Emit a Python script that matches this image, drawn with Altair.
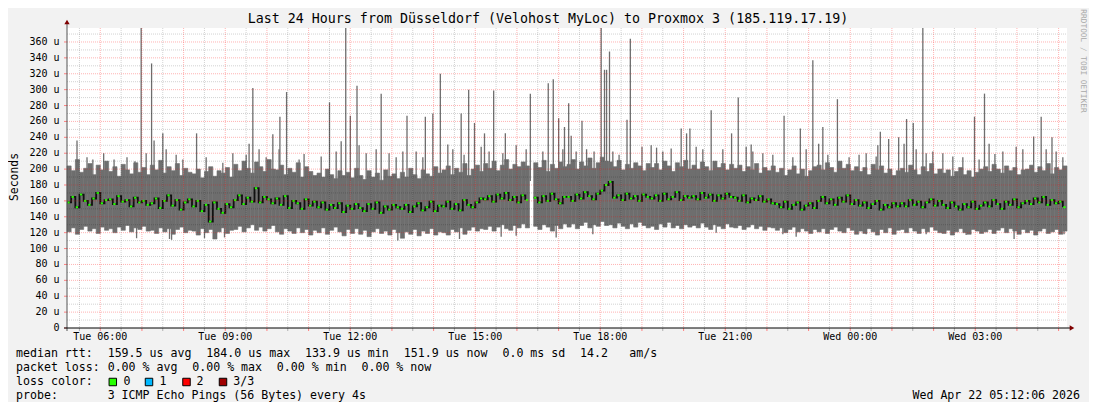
import altair as alt
import pandas as pd

FONT = "DejaVu Sans Mono"
W, H = 1000, 300
YMAX = 377.6

# ---- smoke columns (24 h, 10 columns per hour), values in microseconds ----
hi = [
    204, 198, 212, 196, 201, 207, 193, 205, 199, 210,
    197, 203, 191, 206, 199, 194, 208, 196, 202, 193,
    205, 199, 211, 195, 203, 198, 207, 192, 201, 196,
    194, 200, 189, 197, 203, 191, 198, 195, 202, 190,
    206, 198, 210, 201, 195, 209, 203, 197, 212, 200,
    199, 205, 193, 201, 196, 208, 190, 203, 197, 192,
    195, 190, 200, 193, 188, 198, 192, 196, 189, 201,
    192, 187, 198, 190, 195, 186, 199, 191, 194, 188,
    196, 190, 201, 193, 188, 199, 194, 191, 203, 195,
    199, 204, 193, 201, 196, 207, 192, 200, 205, 197,
    207, 201, 210, 198, 205, 212, 200, 206, 203, 209,
    204, None, 208, 202, 211, 197, 206, 201, 209, 203,
    206, 212, 200, 209, 204, 214, 201, 208, 215, 210,
    209, 203, 211, 199, 206, 201, 208, 204, 198, 207,
    202, 207, 199, 210, 204, 197, 208, 203, 211, 200,
    205, 200, 209, 203, 198, 210, 202, 207, 199, 206,
    201, 205, 197, 203, 199, 207, 195, 202, 198, 204,
    196, 201, 192, 199, 204, 194, 200, 191, 198, 203,
    205, 199, 208, 202, 196, 210, 201, 206, 198, 203,
    197, 202, 193, 206, 199, 204, 195, 200, 192, 198,
    201, 196, 205, 199, 193, 203, 197, 207, 194, 200,
    195, 199, 191, 197, 202, 193, 198, 190, 196, 200,
    203, 197, 206, 200, 195, 204, 198, 202, 193, 199,
    200, 205, 196, 203, 198, 207, 194, 202, 199, 204,
]
lo = [
    121, 126, 118, 124, 128, 122, 125, 119, 127, 123,
    125, 120, 127, 123, 129, 121, 126, 124, 128, 122,
    123, 119, 126, 121, 125, 118, 124, 127, 120, 123,
    122, 117, 125, 120, 124, 112, 121, 126, 119, 123,
    124, 128, 121, 126, 130, 123, 127, 122, 125, 129,
    121, 118, 125, 122, 119, 126, 120, 124, 117, 123,
    120, 126, 118, 123, 127, 121, 116, 124, 119, 125,
    118, 123, 115, 121, 125, 119, 122, 117, 124, 120,
    113, 121, 118, 124, 116, 122, 119, 125, 117, 121,
    120, 117, 124, 121, 126, 118, 123, 127, 122, 125,
    124, 128, 122, 127, 130, 125, 123, 129, 126, 131,
    126, None, 128, 124, 130, 127, 122, 129, 125, 131,
    127, 131, 125, 129, 133, 126, 130, 128, 134, 129,
    130, 126, 132, 128, 125, 131, 127, 133, 129, 126,
    128, 124, 131, 127, 133, 126, 129, 125, 130, 127,
    129, 126, 132, 127, 124, 130, 128, 125, 131, 127,
    126, 129, 124, 127, 130, 125, 128, 123, 127, 126,
    123, 126, 120, 124, 127, 121, 125, 122, 119, 124,
    121, 125, 119, 124, 127, 122, 120, 126, 123, 118,
    122, 119, 125, 121, 117, 124, 120, 126, 118, 123,
    124, 120, 126, 122, 119, 125, 121, 127, 123, 120,
    119, 123, 117, 121, 125, 120, 118, 124, 122, 119,
    121, 124, 119, 123, 126, 120, 125, 122, 118, 124,
    120, 123, 117, 122, 125, 119, 121, 124, 118, 122,
]
med = [
    158, 165, 152, 168, 160, 155, 163, 170, 157, 161,
    162, 156, 166, 159, 161, 153, 164, 158, 160, 155,
    157, 163, 151, 160, 167, 154, 161, 149, 158, 162,
    153, 160, 147, 155, 134, 158, 150, 145, 156, 152,
    161, 167, 156, 164, 159, 176, 158, 165, 162, 157,
    163, 155, 166, 151, 160, 157, 150, 162, 154, 159,
    152, 158, 149, 155, 151, 157, 146, 154, 150, 156,
    151, 147, 156, 150, 158, 145, 153, 149, 155, 152,
    150, 155, 146, 153, 157, 148, 152, 159, 147, 154,
    153, 159, 150, 156, 148, 161, 155, 152, 158, 163,
    162, 166, 159, 168, 163, 170, 161, 165, 158, 167,
    161, None, 164, 158, 166, 160, 169, 162, 157, 165,
    165, 160, 168, 163, 171, 166, 162, 169, 173, 180,
    184, 164, 167, 161, 169, 163, 166, 160, 168, 165,
    163, 167, 160, 169, 162, 165, 171, 161, 166, 164,
    166, 162, 170, 164, 168, 160, 167, 163, 169, 165,
    164, 160, 167, 158, 163, 161, 166, 159, 162, 157,
    156, 152, 159, 150, 155, 158, 149, 154, 157, 151,
    160, 165, 157, 162, 155, 164, 159, 167, 156, 161,
    154, 158, 151, 156, 160, 149, 155, 152, 157, 153,
    157, 153, 161, 155, 159, 152, 158, 162, 154, 160,
    155, 151, 158, 153, 149, 156, 152, 159, 150, 154,
    158, 153, 161, 156, 150, 159, 155, 162, 152, 157,
    160, 156, 163, 158, 165, 155, 161, 157, 159, 152,
]

# ---- isolated tall pings (hours from start, top in microseconds) ----
spike_hour = [0.24, 0.88, 1.78, 2.03, 2.09, 2.30, 3.11, 3.74, 4.37, 4.46, 4.94, 5.11,
              5.27, 5.69, 6.10, 6.30, 6.69, 6.80, 6.96, 7.54, 8.16, 8.60, 8.78, 8.96,
              9.14, 9.46, 9.64, 9.78, 10.02, 10.24, 10.52, 10.78, 11.12, 11.55, 11.67,
              11.80, 11.94, 12.04, 12.10, 12.36, 12.82, 12.90, 12.95, 13.02, 13.44,
              13.52, 13.80, 14.15, 14.74, 14.87, 14.95, 15.46, 15.95, 16.11, 16.42,
              17.21, 17.60, 17.90, 18.04, 18.14, 18.49, 19.42, 19.52, 19.72, 19.96,
              20.15, 20.31, 20.54, 21.78, 22.02, 22.13, 22.27, 23.20, 23.38, 23.64]
spike_top = [236, 220, 378, 333, 236, 245, 245, 208, 232, 302, 244, 266,
             297, 219, 216, 284, 378, 267, 305, 295, 267, 266, 270, 320,
             231, 270, 300, 258, 245, 299, 245, 230, 295, 308, 313,
             264, 253, 283, 242, 261, 378, 325, 325, 348, 262,
             364, 228, 227, 251, 245, 251, 274, 245, 290, 231,
             267, 251, 337, 232, 253, 288, 216, 247, 238, 240,
             263, 258, 378, 266, 295, 232, 219, 241, 266, 240]

# ---- smaller upward teeth above the smoke band ----
tooth_hour = [0.48, 0.62, 1.13, 1.44, 1.63, 1.90, 2.38, 2.62, 2.78, 3.34, 3.98, 4.30,
              4.61, 4.78, 5.09, 5.57, 6.46, 6.58, 7.01, 7.18, 7.42, 7.73, 7.90, 8.06,
              8.38, 8.54, 9.26, 9.53, 9.94, 10.13, 10.46, 11.02, 11.42, 11.90, 12.22,
              12.47, 12.65, 13.10, 13.25, 14.02, 14.30, 14.50, 15.10, 15.26, 15.74,
              16.30, 16.46, 16.70, 16.94, 17.42, 17.74, 18.26, 18.77, 19.01, 19.18,
              19.46, 20.09, 20.38, 20.62, 20.78, 21.02, 21.26, 21.50, 21.89, 22.46,
              22.78, 22.94, 23.50, 23.74, 23.90]
tooth_top = [215, 212, 212, 215, 210, 220, 225, 218, 212, 215, 220, 218,
             225, 215, 225, 212, 222, 235, 230, 220, 225, 220, 215, 222,
             222, 215, 225, 218, 228, 222, 220, 225, 222, 225, 222,
             225, 222, 222, 218, 230, 222, 226, 228, 225, 225,
             228, 222, 220, 218, 215, 225, 218, 215, 218, 220,
             230, 232, 225, 220, 222, 220, 216, 215, 212, 222,
             228, 225, 225, 222, 215]

# ---- downward teeth below the smoke band ----
dip_hour = [1.67, 2.46, 2.51, 3.30, 3.78, 7.94, 9.42, 10.42, 10.78, 11.74, 12.62,
            15.58, 17.18, 17.50, 19.18, 20.62, 21.58, 22.73, 23.93]
dip_bottom = [113, 112, 111, 113, 114, 110, 112, 115, 116, 114, 118,
              120, 118, 115, 118, 118, 117, 112, 118]

# ---- axis labels ----
y_ticks = list(range(0, 361, 20))
y_labels = ["0" if v == 0 else f"{v} u" for v in y_ticks]
FIRST_HOUR = 0.7983  # Tue 06:00 relative to 05:12:06
hour_ticks = [FIRST_HOUR + k for k in range(24)]
half_ticks = [FIRST_HOUR - 0.5 + k for k in range(24)]
x_label_pos = [FIRST_HOUR + k for k in range(0, 24, 3)]
x_labels = ["Tue 06:00", "Tue 09:00", "Tue 12:00", "Tue 15:00", "Tue 18:00",
            "Tue 21:00", "Wed 00:00", "Wed 03:00"]

n = len(hi)
step = 24.0 / n
cols = pd.DataFrame({
    "t0": [i * step for i in range(n)],
    "t1": [(i + 1) * step for i in range(n)],
    "lo": lo, "hi": hi, "med": med,
})

xs = alt.Scale(domain=[0, 24], nice=False, zero=False)
ys = alt.Scale(domain=[0, YMAX], nice=False, zero=True)

SMOKE = "#6e6e6e"
base = alt.Chart(cols)
smoke = base.transform_filter("isValid(datum.hi)").mark_rect(
    color=SMOKE, stroke=SMOKE, strokeWidth=0.6).encode(
    x=alt.X("t0:Q", scale=xs, axis=None), x2="t1:Q",
    y=alt.Y("lo:Q", scale=ys, axis=None), y2="hi:Q")

spikes = alt.Chart(pd.DataFrame({"h": spike_hour, "top": spike_top})).transform_calculate(
    b="185").mark_rule(color=SMOKE, strokeWidth=1.3, clip=True).encode(
    x=alt.X("h:Q", scale=xs, axis=None), y=alt.Y("top:Q", scale=ys, axis=None), y2="b:Q")

teeth = alt.Chart(pd.DataFrame({"h": tooth_hour, "top": tooth_top})).transform_calculate(
    b="185").mark_rule(color=SMOKE, strokeWidth=1.3).encode(
    x=alt.X("h:Q", scale=xs, axis=None), y=alt.Y("top:Q", scale=ys, axis=None), y2="b:Q")

dips = alt.Chart(pd.DataFrame({"h": dip_hour, "bot": dip_bottom})).transform_calculate(
    b="135").mark_rule(color=SMOKE, strokeWidth=1.3).encode(
    x=alt.X("h:Q", scale=xs, axis=None), y=alt.Y("bot:Q", scale=ys, axis=None), y2="b:Q")

medline = base.mark_line(interpolate="step-after", color="#111111", strokeWidth=1.8).encode(
    x=alt.X("t0:Q", scale=xs, axis=None), y=alt.Y("med:Q", scale=ys, axis=None))

medgreen = base.transform_filter("isValid(datum.med)").transform_calculate(
    g1="datum.t0 + 0.01", g2="datum.t0 + 0.065").mark_rule(color="#26ff00", strokeWidth=2).encode(
    x=alt.X("g1:Q", scale=xs, axis=None), x2="g2:Q", y=alt.Y("med:Q", scale=ys, axis=None))

def vgrid(vals, color, op):
    return alt.Chart(pd.DataFrame({"v": vals})).mark_rule(
        color=color, opacity=op, strokeDash=[1, 1], strokeWidth=1).encode(
        x=alt.X("v:Q", scale=xs, axis=None), y=alt.value(0), y2=alt.value(H))

def hgrid(vals, color, op):
    return alt.Chart(pd.DataFrame({"v": vals})).mark_rule(
        color=color, opacity=op, strokeDash=[1, 1], strokeWidth=1).encode(
        y=alt.Y("v:Q", scale=ys, axis=None), x=alt.value(0), x2=alt.value(W))

grid_minor_v = vgrid(half_ticks, "#000000", 0.18)
grid_major_v = vgrid(hour_ticks, "#ff0000", 0.3)
grid_minor_h = hgrid(list(range(10, 371, 20)), "#000000", 0.18)
grid_major_h = hgrid(list(range(20, 361, 20)), "#ff0000", 0.3)

# axis ticks and labels
xt_major = alt.Chart(pd.DataFrame({"v": hour_ticks})).mark_rule(color="#ff8080").encode(
    x=alt.X("v:Q", scale=xs, axis=None), y=alt.value(H), y2=alt.value(H + 3))
xt_minor = alt.Chart(pd.DataFrame({"v": half_ticks})).mark_rule(color="#b0b0b0").encode(
    x=alt.X("v:Q", scale=xs, axis=None), y=alt.value(H), y2=alt.value(H + 3))
yt_major = alt.Chart(pd.DataFrame({"v": y_ticks})).mark_rule(color="#ff8080").encode(
    y=alt.Y("v:Q", scale=ys, axis=None), x=alt.value(-3), x2=alt.value(0))
ylab = alt.Chart(pd.DataFrame({"v": y_ticks, "lab": y_labels})).mark_text(
    font=FONT, fontSize=10, align="right", baseline="middle", color="#000").encode(
    y=alt.Y("v:Q", scale=ys, axis=None), x=alt.value(-7.5), text="lab:N")
xlab = alt.Chart(pd.DataFrame({"v": x_label_pos, "lab": x_labels})).mark_text(
    font=FONT, fontSize=10, align="center", baseline="middle", color="#000").encode(
    x=alt.X("v:Q", scale=xs, axis=None), y=alt.value(H + 9), text="lab:N")

one = pd.DataFrame({"a": [0]})
left_axis = alt.Chart(one).mark_rule(color="#555555", strokeWidth=1).encode(
    x=alt.value(0), y=alt.value(-4), y2=alt.value(H + 3))
bottom_axis = alt.Chart(one).mark_rule(color="#000000", strokeWidth=1).encode(
    x=alt.value(-3), x2=alt.value(W + 4), y=alt.value(H))
arrow_up = alt.Chart(one).mark_point(shape="triangle-up", filled=True, color="#7f0000",
                                     size=28, opacity=1).encode(x=alt.value(0), y=alt.value(-6))
arrow_right = alt.Chart(one).mark_point(shape="triangle-right", filled=True, color="#7f0000",
                                        size=28, opacity=1).encode(x=alt.value(W + 5), y=alt.value(H))

def txt(s, px, py, size, align="left", angle=0, color="#000000"):
    return alt.Chart(pd.DataFrame({"t": [s]})).mark_text(
        font=FONT, fontSize=size, align=align, baseline="middle", angle=angle, color=color).encode(
        x=alt.value(px), y=alt.value(py), text="t:N")

CW = 7.05
LX = -51
texts = [
    txt("Last 24 Hours from Düsseldorf (Velohost MyLoc) to Proxmox 3 (185.119.17.19)", 481, -9, 13.3, "center"),
    txt("Seconds", -52, 149, 11.4, "center", 270),
    txt("RRDTOOL / TOBI OETIKER", 1016, 33, 7.8, "center", 90, "#a8a8a8"),
    txt("Wed Apr 22 05:12:06 2026", 1013, 368, 11.6, "right"),
]
legend_rows = [
    (326, [("median rtt:", 0), ("159.5 us avg", 13), ("184.0 us max", 27), ("133.9 us min", 41),
           ("151.9 us now", 55), ("0.0 ms sd", 69), ("14.2", 80), ("am/s", 87)]),
    (340, [("packet loss:", 0), ("0.00 % avg", 13), ("0.00 % max", 25), ("0.00 % min", 37),
           ("0.00 % now", 49)]),
    (354, [("loss color:", 0)]),
    (368, [("probe:", 0), ("3 ICMP Echo Pings (56 Bytes) every 4s", 13)]),
]
for py, segs in legend_rows:
    for s, c in segs:
        texts.append(txt(s, LX + c * CW, py, 11.6))

loss_names = ["0", "1", "2", "3/3"]
loss_cols = ["#26ff00", "#00b8ff", "#ff0000", "#a00000"]
sq_x = [45.8, 82, 119.5, 156]
lab_x = [56.5, 92.6, 129.5, 166.3]
for nme, col, sx, lx in zip(loss_names, loss_cols, sq_x, lab_x):
    texts.append(alt.Chart(one).mark_square(filled=True, color=col, stroke="#000000",
                                            strokeWidth=1, size=56, opacity=1).encode(
        x=alt.value(sx), y=alt.value(354)))
    texts.append(txt(nme, lx, 354, 11.6))

chart = alt.layer(
    smoke, spikes, teeth, dips, medline, medgreen,
    grid_minor_v, grid_minor_h, grid_major_v, grid_major_h,
    xt_minor, xt_major, yt_major, ylab, xlab,
    left_axis, bottom_axis, arrow_up, arrow_right, *texts
).properties(
    width=W, height=H,
    padding={"left": 59, "top": 20, "right": 22, "bottom": 74},
    autosize=alt.AutoSizeParams(type="none"),
    background="#f2f2f2",
).configure_view(fill="white", stroke=None)

chart.save("out.html", embed_options={"renderer": "svg", "actions": False})
